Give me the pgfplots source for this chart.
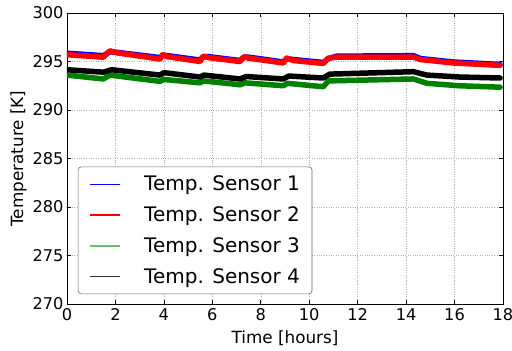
\documentclass[border=0pt]{standalone}
\usepackage{fontspec}
\setmainfont{DejaVu Sans}
\usepackage{pgfplots}
\pgfplotsset{compat=1.18}
\definecolor{mplgreen}{RGB}{0,128,0}
\begin{document}
\begin{tikzpicture}
\useasboundingbox (-67pt,-47pt) rectangle (445pt,304pt);
\begin{axis}[
  at={(0,0)}, anchor=south west,
  scale only axis, width=436pt, height=291pt,
  xmin=0, xmax=18, ymin=270, ymax=300,
  xtick={0,2,...,18}, ytick={270,275,...,300},
  tick align=inside, tick pos=both,
  major tick length=4pt,
  tick style={black, line width=0.6pt},
  axis line style={line width=0.8pt},
  grid=major,
  grid style={gray!60, dotted, line width=0.5pt},
  /pgf/number format/assume math mode=true,
  /pgf/number format/1000 sep={},
  ticklabel style={font=\fontsize{16.2}{18}\selectfont},
  xticklabel style={yshift=-1pt},
  xlabel={Time [hours]}, ylabel={Temperature [K]},
  label style={font=\fontsize{16.8}{19}\selectfont},
  xlabel style={yshift=-3pt},
  ylabel style={yshift=-1pt},
  legend cell align=left,
  legend style={at={(0.025,0.034)}, anchor=south west,
    draw=black!60, rounded corners=3pt, line width=0.6pt,
    font=\fontsize{20}{24}\selectfont,
    nodes={inner xsep=0pt, inner ysep=0pt, text=black},
    row sep=14.5pt, column sep=24pt, inner xsep=12pt, inner ysep=9pt},
  every axis plot/.append style={line width=5.5pt, line join=round, line cap=round},
]
\addlegendimage{legend image code/.code={\fill[fill=blue, draw=none, sharp corners] (0pt,-0.6pt) rectangle (30pt,0.6pt);}}
\addlegendentry{Temp. Sensor 1}
\addlegendimage{legend image code/.code={\fill[fill=red, draw=none, sharp corners] (0pt,-0.6pt) rectangle (30pt,0.6pt);}}
\addlegendentry{Temp. Sensor 2}
\addlegendimage{legend image code/.code={\fill[fill=mplgreen!55, draw=none, sharp corners] (0pt,-0.8pt) rectangle (30pt,0.8pt);}}
\addlegendentry{Temp. Sensor 3}
\addlegendimage{legend image code/.code={\fill[fill=black!80, draw=none, sharp corners] (0pt,-0.6pt) rectangle (30pt,0.6pt);}}
\addlegendentry{Temp. Sensor 4}
\addplot[draw=blue, forget plot] coordinates {
(0,295.85) (1.5,295.6) (1.77,296.0) (2.05,295.95) (3.84,295.4) (3.95,295.65) (4.15,295.6)
(5.49,295.15) (5.63,295.5) (5.84,295.5) (7.14,295.1) (7.31,295.45) (7.49,295.45)
(8.93,294.95) (9.07,295.3) (9.35,295.2) (10.58,294.9) (10.79,295.3) (11.13,295.55)
(14.3,295.6) (14.6,295.3) (15.95,294.95) (17.88,294.7)};
\addplot[draw=red, forget plot] coordinates {
(0,295.7) (1.5,295.45) (1.77,296.1) (2.05,295.9) (3.84,295.25) (3.95,295.7) (4.15,295.5)
(5.49,295.0) (5.63,295.55) (5.84,295.4) (7.14,295.0) (7.31,295.5) (7.49,295.35)
(8.93,294.85) (9.07,295.35) (9.35,295.1) (10.58,294.8) (10.79,295.35) (11.13,295.45)
(14.3,295.45) (14.6,295.2) (15.95,294.85) (17.88,294.6)};
\addplot[draw=mplgreen, forget plot] coordinates {
(0,293.6) (1.5,293.2) (1.77,293.6) (3.84,292.95) (4.0,293.15) (5.49,292.8) (5.63,293.0)
(7.14,292.6) (7.35,292.8) (8.93,292.5) (9.1,292.75) (10.58,292.4) (10.8,293.0)
(14.3,293.2) (14.86,292.75) (16.2,292.5) (17.88,292.35)};
\addplot[draw=black, forget plot] coordinates {
(0,294.15) (1.5,293.9) (1.84,294.15) (3.84,293.6) (4.0,293.85) (5.49,293.4) (5.65,293.6)
(7.14,293.2) (7.4,293.45) (8.93,293.2) (9.15,293.5) (10.58,293.3) (10.85,293.7)
(14.3,293.95) (14.86,293.6) (16.2,293.4) (17.88,293.3)};
\end{axis}
\end{tikzpicture}
\end{document}
